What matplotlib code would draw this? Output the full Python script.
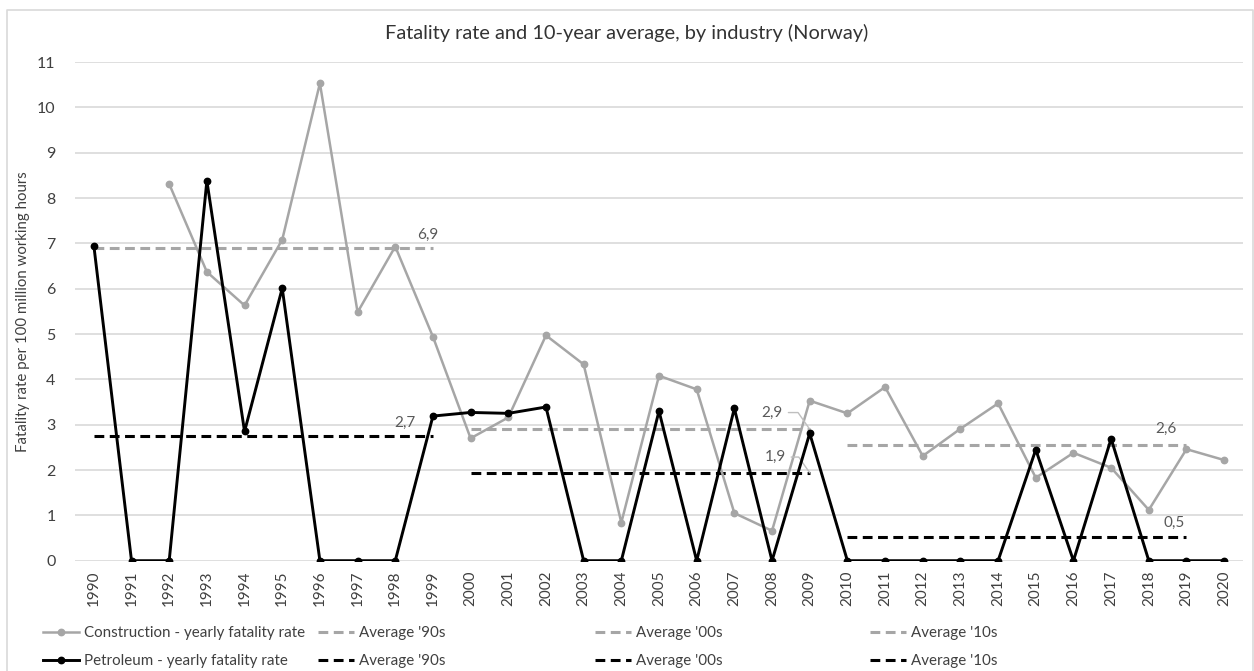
import matplotlib
matplotlib.use("Agg")
import matplotlib.pyplot as plt
from matplotlib.lines import Line2D

plt.rcParams['font.family'] = ['Lato', 'DejaVu Sans']

years = [str(y) for y in range(1990, 2021)]

construction = [None, None, 8.31, 6.37, 5.63, 7.08, 10.53, 5.48, 6.93, 4.94,
                2.70, 3.16, 4.97, 4.33, 0.84, 4.08, 3.78, 1.05, 0.66, 3.53,
                3.25, 3.83, 2.31, 2.91, 3.47, 1.83, 2.38, 2.05, 1.12, 2.46, 2.22]
petroleum = [6.95, 0, 0, 8.38, 2.85, 6.01, 0, 0, 0, 3.19,
             3.27, 3.25, 3.39, 0, 0, 3.30, 0, 3.36, 0, 2.81,
             0, 0, 0, 0, 0, 2.45, 0, 2.69, 0, 0, 0]

decades = ["'90s", "'00s", "'10s"]
decade_start = ["1990", "2000", "2010"]
decade_end = ["1999", "2009", "2019"]
construction_avg = [6.9, 2.9, 2.56]
petroleum_avg = [2.74, 1.94, 0.52]
construction_avg_lbl = ["6,9", "2,9", "2,6"]
petroleum_avg_lbl = ["2,7", "1,9", "0,5"]

LIGHT = '#a6a6a6'
DARK = '#000000'
LBL = '#595959'
TXT = '#404040'

fig = plt.figure(figsize=(12.54, 6.71), dpi=100)
ax = fig.add_axes([75/1254, 1-560.7/671, (1243-75)/1254, (560.7-62)/671])

xs = list(range(len(years)))
cx = [x for x, v in zip(xs, construction) if v is not None]
cv = [v for v in construction if v is not None]

DASH = (0, (3.2, 1.8))
avg_handles_c, avg_handles_p = [], []
for i in range(3):
    s, e = years.index(decade_start[i]), years.index(decade_end[i])
    hc, = ax.plot([s, e], [construction_avg[i]] * 2, color=LIGHT, lw=2.2,
                  ls=DASH, zorder=2)
    hp, = ax.plot([s, e], [petroleum_avg[i]] * 2, color=DARK, lw=2.2,
                  ls=DASH, zorder=2)
    avg_handles_c.append(hc)
    avg_handles_p.append(hp)

hcon, = ax.plot(cx, cv, color=LIGHT, lw=1.8, marker='o', ms=4.6, zorder=3)
hpet, = ax.plot(xs, petroleum, color=DARK, lw=2.1, marker='o', ms=4.6, zorder=4)

ax.set_xlim(-0.5, len(years) - 0.5)
ax.set_ylim(0, 11)
ax.set_yticks(range(0, 12))
ax.set_xticks(xs)
ax.set_xticklabels(years, rotation=90, fontsize=11, color=TXT)
ax.tick_params(axis='y', labelsize=11.5, labelcolor=TXT, length=0, pad=14)
ax.tick_params(axis='x', length=0, pad=7)
ax.grid(axis='y', color='#d9d9d9', lw=1.2)
ax.set_axisbelow(True)
for sp in ax.spines.values():
    sp.set_visible(False)
ax.set_ylabel('Fatality rate per 100 million working hours', fontsize=10.8, color=TXT)
ax.yaxis.set_label_coords((30 - 75) / 1168, 0.5)
fig.text(0.5, 1-33/671, 'Fatality rate and 10-year average, by industry (Norway)',
         ha='center', va='center', fontsize=14.4, color='#333333')

def lbl(txt, x, y, dx, dy, leader=False):
    kw = {}
    if leader:
        kw['arrowprops'] = dict(arrowstyle='-', color='#bfbfbf', lw=1,
                                connectionstyle='angle,angleA=0,angleB=125,rad=0',
                                relpos=(1, 0.5), shrinkA=2, shrinkB=0)
    ax.annotate(txt, (x, y), xytext=(dx, dy), textcoords='offset points',
                fontsize=11, color=LBL, ha='center', va='center', **kw)

e90 = years.index(decade_end[0])
e00 = years.index(decade_end[1])
e10 = years.index(decade_end[2])
lbl(construction_avg_lbl[0], e90, construction_avg[0], -3.6, 9.4)
lbl(petroleum_avg_lbl[0], e90, petroleum_avg[0], -20, 10)
lbl(construction_avg_lbl[1], e00, construction_avg[1], -27, 12, leader=True)
lbl(petroleum_avg_lbl[1], e00, petroleum_avg[1], -25, 11.3, leader=True)
lbl(construction_avg_lbl[2], e10, construction_avg[2], -15, 11.3)
lbl(petroleum_avg_lbl[2], e10, petroleum_avg[2], -9, 10)

cols = [
    ([hcon, hpet], ['Construction - yearly fatality rate', 'Petroleum - yearly fatality rate'], 43),
    ([avg_handles_c[0], avg_handles_p[0]], ['Average ' + decades[0]] * 2, 318),
    ([avg_handles_c[1], avg_handles_p[1]], ['Average ' + decades[1]] * 2, 595),
    ([avg_handles_c[2], avg_handles_p[2]], ['Average ' + decades[2]] * 2, 870),
]
for hs, ls, x0 in cols:
    fig.legend(hs, ls, loc='upper left', bbox_to_anchor=(x0/1254, 1-626/671),
               frameon=False, fontsize=10.9, handlelength=2.4, handletextpad=0.3,
               labelspacing=0.95, borderpad=0, borderaxespad=0, labelcolor=TXT)

fig.add_artist(Line2D([7/1254, 7/1254, 1253/1254, 1253/1254],
                      [0, 1-10/671, 1-10/671, 0], transform=fig.transFigure,
                      color='#d9d9d9', lw=1.2))

fig.savefig('out.png', dpi=100, facecolor='white')
